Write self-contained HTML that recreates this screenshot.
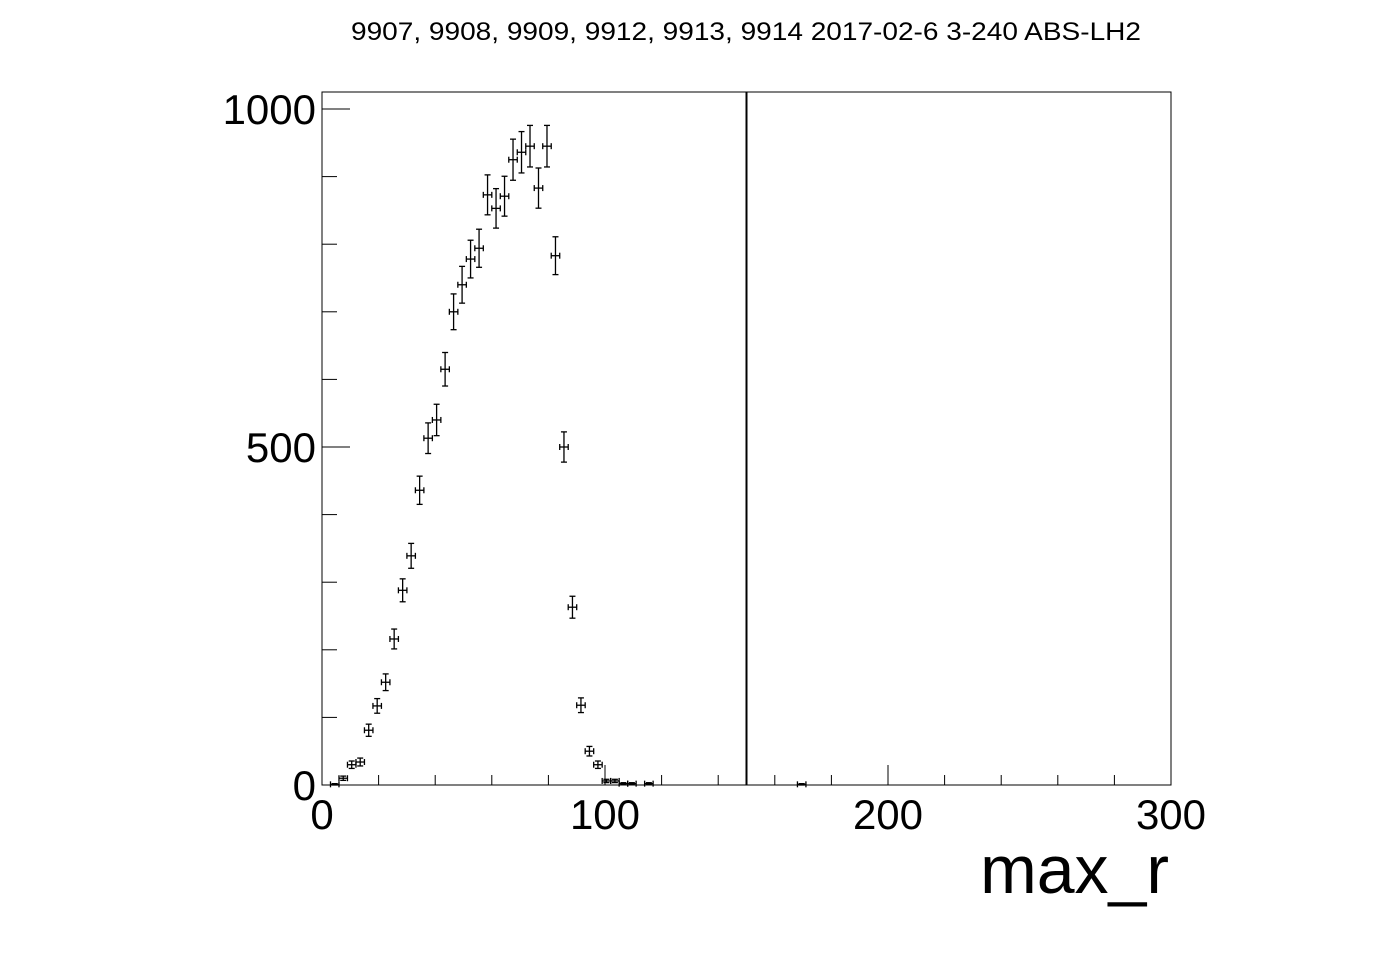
<!DOCTYPE html>
<html><head><meta charset="utf-8"><style>
html,body{margin:0;padding:0;background:#fff;}
svg{display:block;font-family:"Liberation Sans",sans-serif;}
</style></head><body>
<svg id="chart" width="1396" height="972">
<text x="746" y="40" text-anchor="middle" font-size="25" textLength="790" lengthAdjust="spacingAndGlyphs">9907, 9908, 9909, 9912, 9913, 9914 2017-02-6 3-240 ABS-LH2</text>
<rect x="322" y="92" width="849" height="693" fill="none" stroke="#000" stroke-width="1"/>
<g id="axes"></g>
<g id="marks"></g>
<text x="1169" y="893" text-anchor="end" font-size="68">max_r</text>
</svg>
<script>
const binCenters=[4.5,7.5,10.5,13.5,16.5,19.5,22.5,25.5,28.5,31.5,34.5,37.5,40.5,43.5,46.5,49.5,52.5,55.5,58.5,61.5,64.5,67.5,70.5,73.5,76.5,79.5,82.5,85.5,88.5,91.5,94.5,97.5,100.5,103.5,106.5,109.5,115.5,169.5];
const counts=[1,10,30,34,81,117,152,216,288,339,436,513,540,615,700,740,778,794,873,853,871,925,936,945,883,945,783,500,263,118,50,30,6,6,2,2,2,1];
const xTickLabels=[0,100,200,300];
const yTickLabels=[0,500,1000];
const cutValue=150;
const binWidth=3;

const NS="http://www.w3.org/2000/svg";
const X0=322,X1=1171,Y0=785,Y1=92;
const xs=v=>X0+(v/300)*(X1-X0);
const ys=v=>Y0-(v/1000)*676;
function mk(tag,attrs,parent){const e=document.createElementNS(NS,tag);for(const k in attrs)e.setAttribute(k,attrs[k]);parent.appendChild(e);return e;}
const axes=document.getElementById('axes'),marks=document.getElementById('marks');

for(let v=0;v<=300;v+=20){
  const t=mk('line',{x1:xs(v),x2:xs(v),y1:Y0,y2:Y0-10,stroke:'#000'},axes);
  
  
}
xTickLabels.forEach(v=>{
  const t=mk('line',{x1:xs(v),x2:xs(v),y1:Y0,y2:Y0-20,stroke:'#000'},axes);
  
  
  const l=mk('text',{x:xs(v),y:829,'text-anchor':'middle','font-size':42},axes);
  l.textContent=v;
  
  
});
for(let v=0;v<=1000;v+=100){
  const t=mk('line',{x1:X0,x2:X0+15,y1:ys(v),y2:ys(v),stroke:'#000'},axes);
  
  
}
yTickLabels.forEach(v=>{
  const t=mk('line',{x1:X0,x2:X0+28,y1:ys(v),y2:ys(v),stroke:'#000'},axes);
  
  
  const l=mk('text',{x:316,y:ys(v)+15,'text-anchor':'end','font-size':42},axes);
  l.textContent=v;
  
  
});
const cl=mk('line',{x1:xs(cutValue),x2:xs(cutValue),y1:Y1,y2:Y0,stroke:'#000','stroke-width':2},marks);


binCenters.forEach((c,i)=>{
  const n=counts[i],e=Math.sqrt(n);
  const g=mk('g',{stroke:'#000','stroke-width':1.3,fill:'none'},marks);
  
  
  const x=xs(c),y=ys(n),xl=xs(c-binWidth/2),xr=xs(c+binWidth/2),yt=ys(n+e),yb=Math.min(ys(n-e),Y0);
  mk('line',{x1:xl,x2:xr,y1:y,y2:y},g);
  mk('line',{x1:x,x2:x,y1:yt,y2:yb},g);
  mk('line',{x1:x-3,x2:x+3,y1:yt,y2:yt},g);
  mk('line',{x1:x-3,x2:x+3,y1:yb,y2:yb},g);
  mk('line',{x1:xl,x2:xl,y1:y-3,y2:y+3},g);
  mk('line',{x1:xr,x2:xr,y1:y-3,y2:y+3},g);
});
</script>
</body></html>
